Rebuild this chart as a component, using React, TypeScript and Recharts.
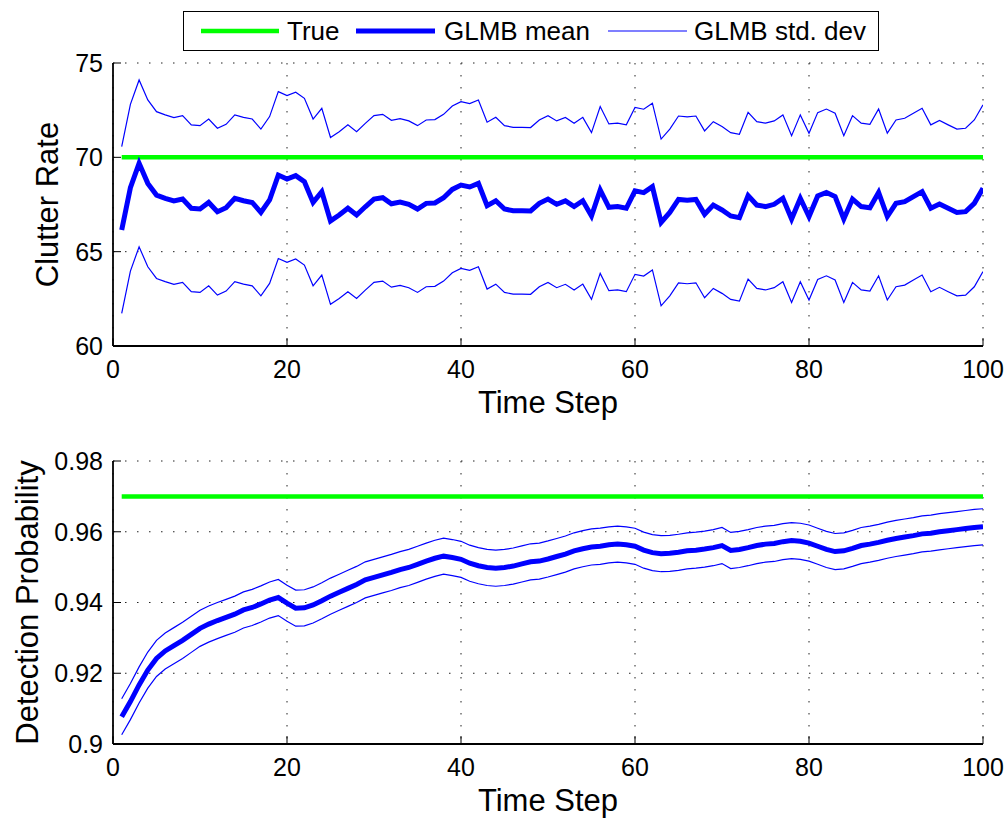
import { CartesianGrid, Label, Line, LineChart, XAxis, YAxis } from "recharts";

// time steps 1..100
const steps: number[] = Array.from({ length: 100 }, (_, i) => i + 1);

const clutterTrue = 70;
const clutterStd = 4.42;
const clutterMean = [
  66.15, 68.39, 69.68, 68.62, 68.0, 67.83, 67.69, 67.79, 67.3, 67.26,
  67.61, 67.12, 67.33, 67.83, 67.7, 67.61, 67.08, 67.74, 69.06, 68.85,
  69.03, 68.71, 67.61, 68.18, 66.63, 66.94, 67.3, 66.94, 67.38, 67.79,
  67.86, 67.54, 67.63, 67.51, 67.26, 67.56, 67.58, 67.86, 68.3, 68.53,
  68.43, 68.62, 67.44, 67.7, 67.26, 67.17, 67.17, 67.16, 67.56, 67.79,
  67.51, 67.69, 67.39, 67.7, 66.89, 68.27, 67.35, 67.39, 67.3, 68.22,
  68.13, 68.45, 66.55, 67.08, 67.77, 67.72, 67.77, 66.98, 67.47, 67.21,
  66.89, 66.8, 67.97, 67.47, 67.39, 67.51, 67.83, 66.73, 67.83, 66.86,
  67.95, 68.14, 67.92, 66.73, 67.79, 67.39, 67.33, 68.14, 66.86, 67.56,
  67.65, 67.92, 68.18, 67.3, 67.53, 67.3, 67.08, 67.12, 67.56, 68.36,
];

const detectionTrue = 0.97;
const detectionStd = 0.0051;
const detectionMean = [
  0.9077, 0.912, 0.9167, 0.9209, 0.9242, 0.9263, 0.9278, 0.9293, 0.931, 0.9327,
  0.9339, 0.9349, 0.9358, 0.9367, 0.9379, 0.9386, 0.9396, 0.9407, 0.9414, 0.9398,
  0.9384, 0.9385, 0.9393, 0.9405, 0.9418, 0.9429, 0.944, 0.9451, 0.9464, 0.9471,
  0.9478, 0.9485, 0.9493, 0.9499, 0.9508, 0.9517, 0.9525, 0.9531, 0.9527, 0.9522,
  0.9511, 0.9504, 0.9499, 0.9497, 0.9499, 0.9503, 0.9509, 0.9515, 0.9517, 0.9523,
  0.953, 0.9537, 0.9546, 0.9552, 0.9557, 0.9559, 0.9563, 0.9565, 0.9563, 0.9559,
  0.9548, 0.9541, 0.9538, 0.9539, 0.9542, 0.9546, 0.9548, 0.9551, 0.9555, 0.9561,
  0.9547, 0.955, 0.9555, 0.9561, 0.9565, 0.9567, 0.9572, 0.9575, 0.9573, 0.9568,
  0.9559, 0.955, 0.9544, 0.9546, 0.9553, 0.9561, 0.9565, 0.957, 0.9576, 0.9581,
  0.9585, 0.9589, 0.9594, 0.9596, 0.96, 0.9603, 0.9606, 0.9609, 0.9612, 0.9614,
];

const xTicks = [0, 20, 40, 60, 80, 100];
const clutterTicks = [60, 65, 70, 75];
const detectionTicks = [0.9, 0.92, 0.94, 0.96, 0.98];

const FONT = '"Liberation Sans", Arial, Helvetica, sans-serif';
const GREEN = "#00ff00";
const BLUE = "#0000ff";

const buildRows = (mean: number[], std: number, truth: number) =>
  steps.map((t, i) => ({
    t,
    truth,
    mean: mean[i],
    upper: mean[i] + std,
    lower: mean[i] - std,
  }));

const clutterRows = buildRows(clutterMean, clutterStd, clutterTrue);
const detectionRows = buildRows(detectionMean, detectionStd, detectionTrue);

const yLabel = (text: string, cx: number) => (props: any) => {
  const vb = props.viewBox;
  const cy = vb.y + vb.height / 2;
  return (
    <text
      x={cx}
      y={cy}
      transform={`rotate(-90, ${cx}, ${cy})`}
      textAnchor="middle"
      dominantBaseline="central"
      fontSize={31}
      fontFamily={FONT}
      fill="#000"
    >
      {text}
    </text>
  );
};

const xLabel = (props: any) => {
  const vb = props.viewBox;
  return (
    <text
      x={vb.x + vb.width / 2}
      y={vb.y + 67}
      textAnchor="middle"
      fontSize={31}
      fontFamily={FONT}
      fill="#000"
    >
      Time Step
    </text>
  );
};

const tickStyle = { fontSize: 25, fontFamily: FONT, fill: "#000" };
const axisLine = { stroke: "#000", strokeWidth: 1.8 };

interface PanelProps {
  rows: ReturnType<typeof buildRows>;
  height: number;
  margin: { top: number; right: number; bottom: number; left: number };
  domain: [number, number];
  yTicks: number[];
  label: string;
  labelX: number;
}

function Panel({ rows, height, margin, domain, yTicks, label, labelX }: PanelProps) {
  return (
    <LineChart width={1008} height={height} data={rows} margin={margin}>
      <CartesianGrid
        xAxisId="b"
        yAxisId="l"
        stroke="#222"
        strokeWidth={1}
        strokeDasharray="1.5 10.5"
        horizontalValues={yTicks}
        verticalValues={xTicks}
      />
      <XAxis
        xAxisId="b"
        dataKey="t"
        type="number"
        domain={[0, 100]}
        ticks={xTicks}
        allowDataOverflow
        height={30}
        tick={tickStyle}
        tickSize={-8}
        tickMargin={22}
        axisLine={axisLine}
        tickLine={{ stroke: "#000" }}
      >
        <Label content={xLabel} />
      </XAxis>
      <XAxis
        xAxisId="t"
        orientation="top"
        dataKey="t"
        type="number"
        domain={[0, 100]}
        ticks={xTicks}
        height={0}
        tick={false}
        tickSize={-8}
        axisLine={axisLine}
        tickLine={{ stroke: "#000" }}
      />
      <YAxis
        yAxisId="l"
        type="number"
        domain={domain}
        ticks={yTicks}
        allowDataOverflow
        width={60}
        tick={tickStyle}
        tickSize={-8}
        tickMargin={18}
        axisLine={axisLine}
        tickLine={{ stroke: "#000" }}
      >
        <Label content={yLabel(label, labelX)} />
      </YAxis>
      <YAxis
        yAxisId="r"
        orientation="right"
        type="number"
        domain={domain}
        ticks={yTicks}
        width={0}
        tick={false}
        tickSize={-8}
        axisLine={axisLine}
        tickLine={{ stroke: "#000" }}
      />
      <Line xAxisId="b" yAxisId="l" dataKey="truth" stroke={GREEN} strokeWidth={4.5} dot={false} isAnimationActive={false} />
      <Line xAxisId="b" yAxisId="l" dataKey="upper" stroke={BLUE} strokeWidth={1.2} dot={false} isAnimationActive={false} />
      <Line xAxisId="b" yAxisId="l" dataKey="lower" stroke={BLUE} strokeWidth={1.2} dot={false} isAnimationActive={false} />
      <Line xAxisId="b" yAxisId="l" dataKey="mean" stroke={BLUE} strokeWidth={5} dot={false} isAnimationActive={false} />
    </LineChart>
  );
}

function LegendBox() {
  return (
    <div
      style={{
        position: "absolute",
        left: 183,
        top: 11,
        width: 696,
        height: 40,
        border: "1.5px solid #000",
        background: "#fff",
        boxSizing: "border-box",
      }}
    >
      <svg width={694} height={37} style={{ display: "block" }}>
        <line x1={17} x2={95} y1={19} y2={19} stroke={GREEN} strokeWidth={4.5} />
        <text x={103} y={28} fontSize={26} fontFamily={FONT} fill="#000">True</text>
        <line x1={172} x2={251} y1={19} y2={19} stroke={BLUE} strokeWidth={5} />
        <text x={260} y={28} fontSize={26} fontFamily={FONT} fill="#000">GLMB mean</text>
        <line x1={424} x2={503} y1={19} y2={19} stroke={BLUE} strokeWidth={1.2} />
        <text x={510} y={28} fontSize={26} fontFamily={FONT} fill="#000">GLMB std. dev</text>
      </svg>
    </div>
  );
}

export default function App() {
  return (
    <div style={{ position: "absolute", left: 0, top: 0, width: 1008, height: 819, background: "#fff" }}>
      <div style={{ position: "absolute", left: 0, top: 0 }}>
        <Panel
          rows={clutterRows}
          height={430}
          margin={{ top: 63, right: 25, bottom: 54, left: 53 }}
          domain={[60, 75]}
          yTicks={clutterTicks}
          label="Clutter Rate"
          labelX={47}
        />
      </div>
      <div style={{ position: "absolute", left: 0, top: 400 }}>
        <Panel
          rows={detectionRows}
          height={419}
          margin={{ top: 61, right: 25, bottom: 45, left: 53 }}
          domain={[0.9, 0.98]}
          yTicks={detectionTicks}
          label="Detection Probability"
          labelX={27}
        />
      </div>
      <LegendBox />
    </div>
  );
}
